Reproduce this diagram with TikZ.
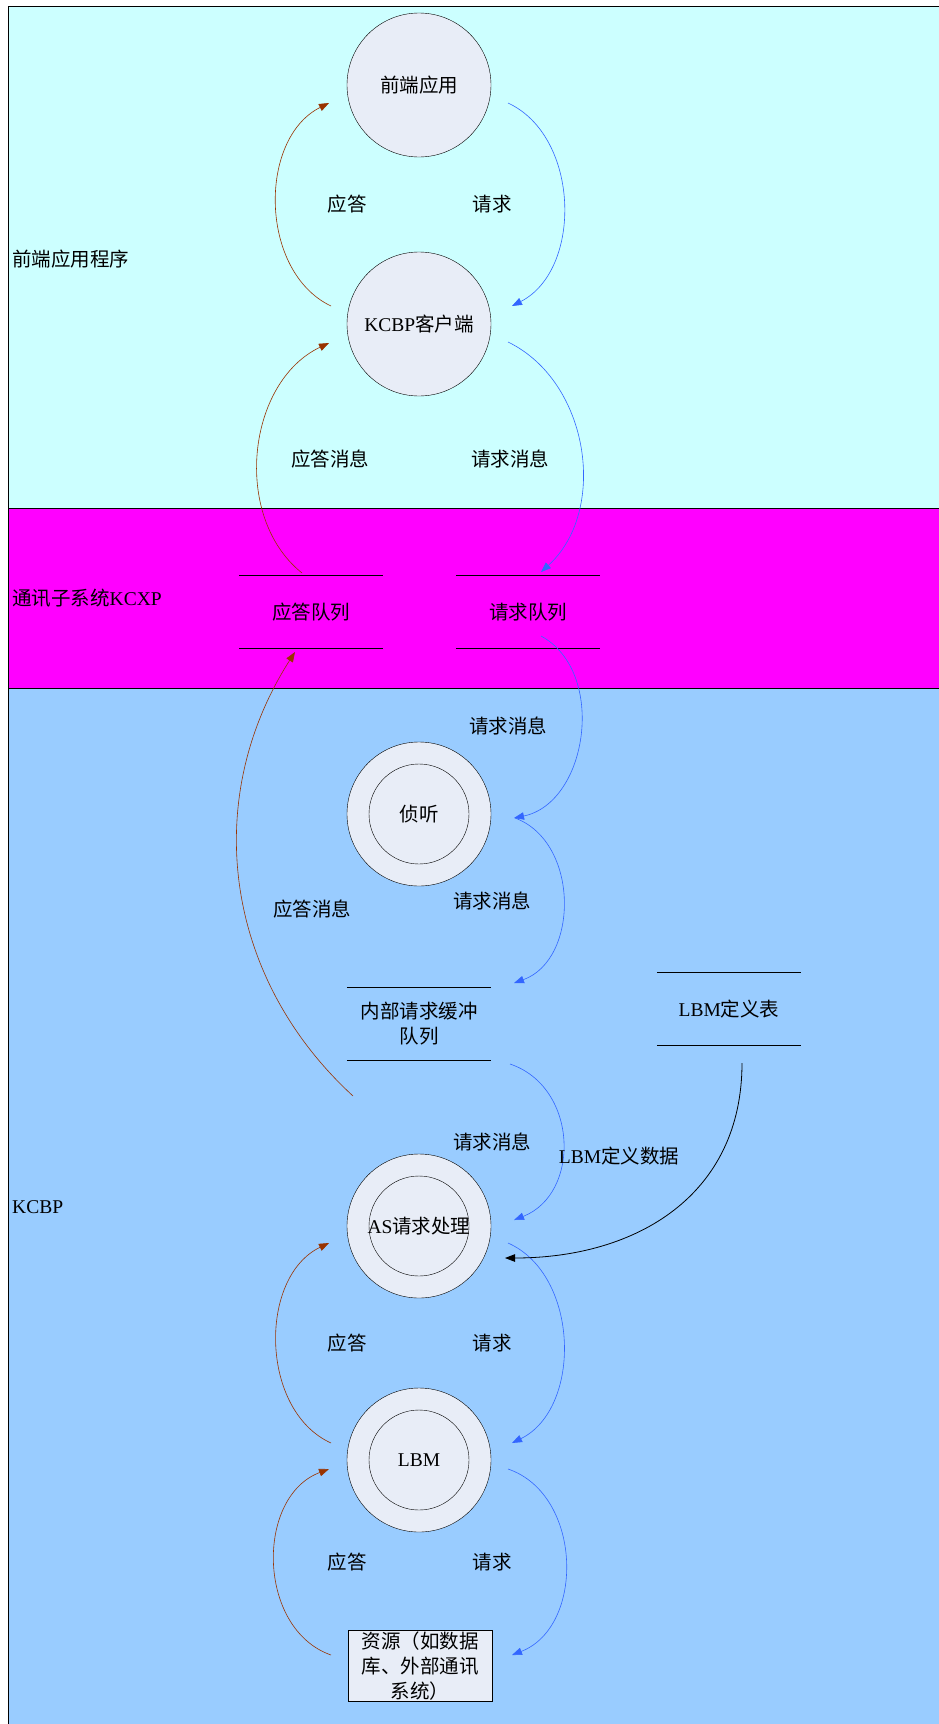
\documentclass[tikz,border=0pt]{standalone}
\usepackage{fontspec}
\setmainfont{Liberation Serif}
\newfontfamily\cjk{Noto Sans CJK SC}
\usetikzlibrary{arrows}
\usetikzlibrary{arrows.meta}
\usetikzlibrary{positioning}
\newcommand{\zh}[1]{{\cjk #1}}
\definecolor{mcyan}{rgb}{0.8, 1, 1}
\definecolor{mmag}{rgb}{1, 0, 1}
\definecolor{msky}{rgb}{0.6, 0.8, 1}
\definecolor{mfill}{rgb}{0.91, 0.93, 0.97}
\definecolor{mbrown}{rgb}{0.6, 0.2, 0}
\definecolor{mblue}{rgb}{0.2, 0.4, 1}
\tikzset{proc/.style = {draw, circle, fill = mfill, minimum size = 144pt, inner sep = 0}}
\tikzset{dproc/.style = {proc, path picture = {\draw (path picture bounding box.center) circle (50pt);}}}
\tikzset{store/.style = {minimum width = 144pt, minimum height = 72pt, inner sep = 0, align = center}}
\tikzset{res/.style = {draw, fill = mfill, minimum width = 144pt, minimum height = 71pt, inner sep = 0, align = center}}
\tikzset{band/.style = {anchor = west, inner sep = 0}}
\tikzset{ans/.style = {mbrown, line width = 0.6pt, -{Triangle[length = 10pt, width = 7.5pt]}}}
\tikzset{req/.style = {mblue, line width = 0.6pt, -{Triangle[length = 10pt, width = 7.5pt]}}}
\tikzset{dat/.style = {black, line width = 0.8pt, -{Triangle[length = 10pt, width = 7.5pt]}}}

\begin{document}
\begin{tikzpicture}[x = 1pt, y = -1pt, font = \fontsize{19.5}{25}\selectfont]
    \useasboundingbox (0, 0) rectangle (938, 1724);
    \fill [white] (0, 0) rectangle (938, 1724);
    \filldraw [fill = mcyan] (8, 6) rectangle (960, 508);
    \filldraw [fill = mmag] (8, 508) rectangle (960, 688);
    \filldraw [fill = msky] (8, 688) rectangle (960, 1760);
    \node [band] (fe) at (12, 259) {\zh{前端应用程序}};
    \node [band] (kcxp) at (12, 598) {\zh{通讯子系统}KCXP};
    \node [band] (kcbp) at (12, 1207) {KCBP};

    \node [proc] (app) at (419, 85) {\zh{前端应用}};
    \node [proc] (cli) at (419, 324) {KCBP\zh{客户端}};
    \node [store] (ansq) at (311, 612) {\zh{应答队列}};
    \node [store] (reqq) at (528, 612) {\zh{请求队列}};
    \node [dproc] (lsn) at (419, 814) {\zh{侦听}};
    \node [store] (bufq) at (419, 1024) {\zh{内部请求缓冲}\\\zh{队列}};
    \node [store] (lbmt) at (729, 1009) {LBM\zh{定义表}};
    \node [dproc] (asp) at (419, 1226) {AS\zh{请求处理}};
    \node [dproc] (lbm) at (419, 1460) {LBM};
    \node [res] (res) at (420, 1666) {\zh{资源（如数据}\\\zh{库、外部通讯}\\\zh{系统）}};
    \foreach \q in {ansq, reqq, bufq, lbmt} {
      \draw [line width = 1pt] (\q.north west) -- (\q.north east) (\q.south west) -- (\q.south east);
    }

    \foreach \i/\ya/\yb/\b/\l in {1/103/306/64/1, 2/1243/1443/65/1, 3/1469/1655/70/1.08} {
      \coordinate (a\i) at (331, \yb);
      \coordinate (b\i) at (329, \ya);
      \coordinate (c\i) at (508, \ya);
      \coordinate (d\i) at (512, \yb);
      \draw [ans] (a\i) to [bend left = \b, looseness = \l] (b\i);
      \draw [req] (c\i) to [bend left = \b, looseness = \l] (d\i);
      \node (ansl\i) at (347, {(\ya + \yb) / 2}) {\zh{应答}};
      \node (reql\i) at (492, {(\ya + \yb) / 2}) {\zh{请求}};
    }

    \coordinate (cli-o) at (508, 342);
    \coordinate (reqq-i) at (541, 572);
    \coordinate (ansq-o) at (302, 573);
    \coordinate (cli-i) at (329, 343);
    \draw [req] (cli-o) to [bend left = 56] (reqq-i);
    \draw [ans] (ansq-o) to [bend left = 58] (cli-i);
    \node (ansm1) at (330, 459) {\zh{应答消息}};
    \node (reqm1) at (510, 459) {\zh{请求消息}};

    \coordinate (reqq-o) at (541, 636);
    \coordinate (lsn-i) at (514, 818);
    \coordinate (lsn-o) at (515, 818);
    \coordinate (bufq-i) at (514, 983);
    \coordinate (bufq-o) at (510, 1064);
    \coordinate (asp-i) at (514, 1220);
    \draw [req] (reqq-o) to [bend left = 70, looseness = 1.05] (lsn-i);
    \draw [req] (lsn-o) to [bend left = 70, looseness = 1.07] (bufq-i);
    \draw [req] (bufq-o) to [bend left = 70, looseness = 1.18] (asp-i);
    \node (reqm2) at (508, 726) {\zh{请求消息}};
    \node (reqm3) at (492, 901) {\zh{请求消息}};
    \node (reqm4) at (492, 1142) {\zh{请求消息}};

    \coordinate (asp-o) at (353, 1096);
    \coordinate (ansq-i) at (295, 652);
    \draw [ans] (asp-o) to [bend left = 40] (ansq-i);
    \node (ansm2) at (312, 909) {\zh{应答消息}};

    \coordinate (lbmt-o) at (742, 1063);
    \coordinate (asp-d) at (505, 1258);
    \draw [dat] (lbmt-o) to [out = -90, in = 0, looseness = 1.1] (asp-d);
    \node (lbmd) at (619, 1156) {LBM\zh{定义数据}};
  \end{tikzpicture}
\end{document}
